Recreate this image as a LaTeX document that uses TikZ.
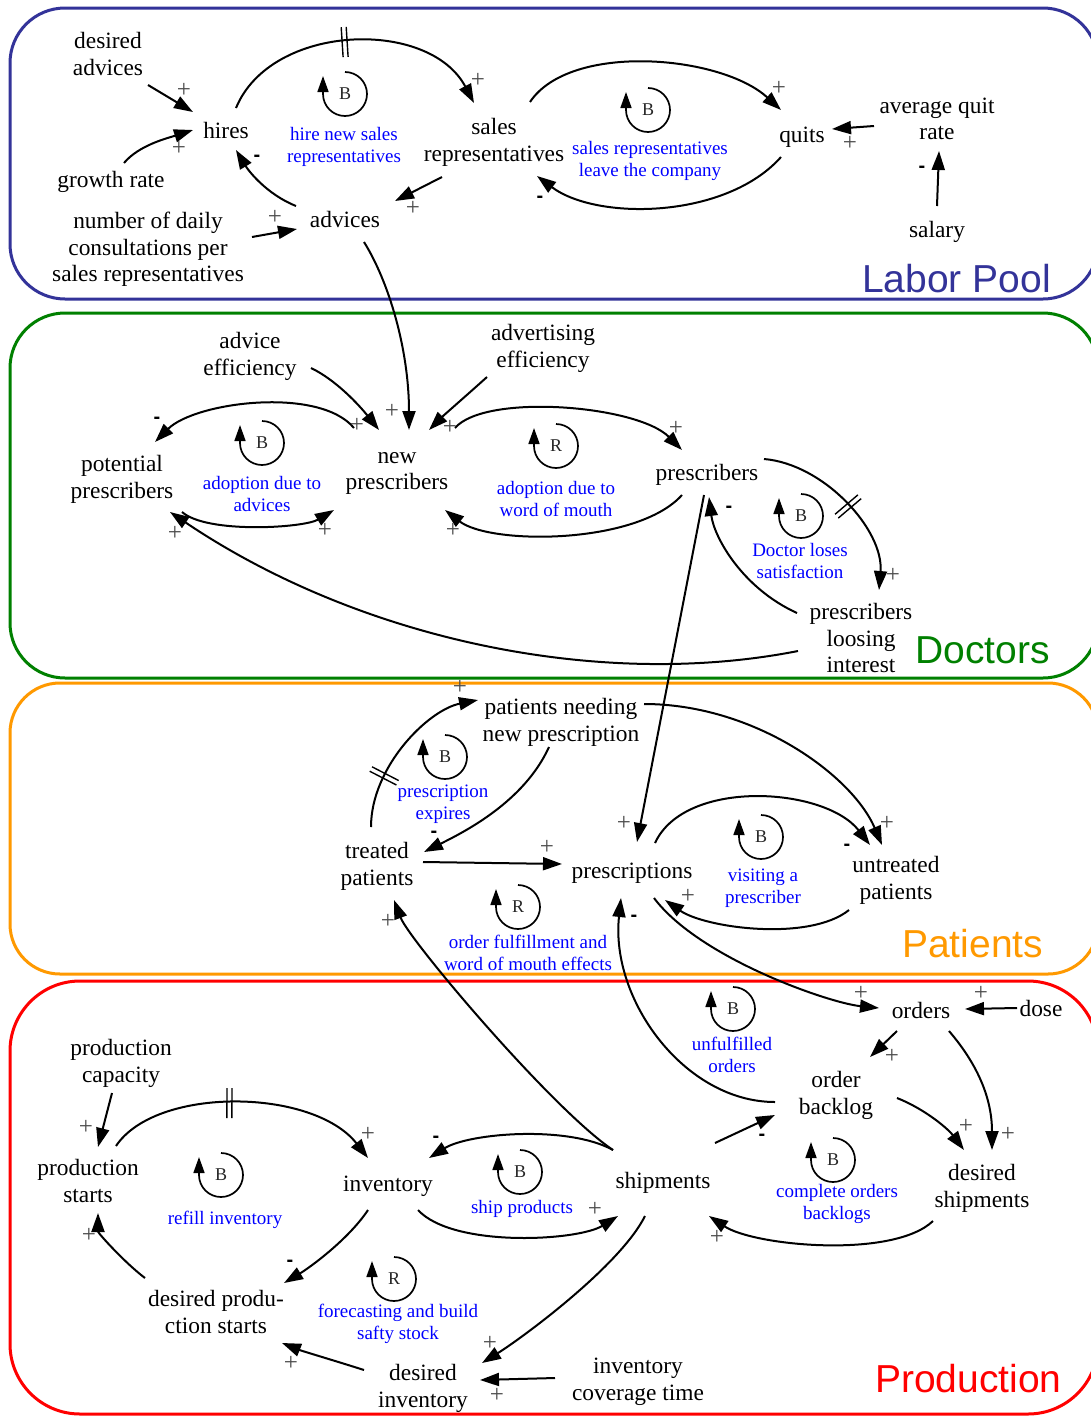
\documentclass[tikz,border=0pt]{standalone}
\usepackage{fontspec}
\setmainfont{Liberation Serif}
\newfontfamily\sansfam{Liberation Sans}
\usetikzlibrary{arrows.meta,calc,decorations.markings}

\definecolor{poolblue}{HTML}{333399}
\definecolor{docgreen}{HTML}{008000}
\definecolor{patorange}{HTML}{FF9900}
\definecolor{prodred}{HTML}{FF0000}

\tikzset{
  var/.style={font=\fontsize{23.4}{26.5}\selectfont, align=center, inner sep=0pt, text depth=0pt},
  looptext/.style={font=\fontsize{19}{22}\selectfont, text=blue, align=center, inner sep=0pt, text depth=0pt},
  loopletter/.style={font=\fontsize{18}{18}\selectfont, inner sep=0pt, text=black!85},
  loopline/.style={line width=1.7pt, -{Triangle[length=16pt,width=11pt]}},
  plus/.style={font=\fontsize{25}{25}\selectfont, inner sep=0pt, text=black!70},
  minus/.style={font=\sansfam\bfseries\fontsize{20}{20}\selectfont, inner sep=0pt},
  arr/.style={line width=2pt, -{Triangle[length=19pt,width=13pt]}},
  panel/.style={line width=3pt},
  ptitle/.style={font=\sansfam\fontsize{39}{39}\selectfont, anchor=base west, inner sep=0pt},
  delaybar/.style={postaction={decorate, decoration={markings,
      mark=at position #1 with {\draw[-, line width=1.4pt] (-2.5,-15) -- (-2.5,15) (2.5,-15) -- (2.5,15);}}}}
}

% feedback loop symbol: letter inside a clockwise circular arrow
\newcommand\fbloop[4]{%
  \node[loopletter] (#1) at (#2,#3) {#4};
  \draw[loopline] ($(#1)+(0,-22)$) arc[start angle=-90, end angle=180, radius=22] -- ++(0,-18);
}

\begin{document}
\begin{tikzpicture}[x=1pt, y=-1pt]
\useasboundingbox (0,0) rectangle (1091,1416);
\fill[white] (0,0) rectangle (1091,1416);
\clip (0,0) rectangle (1091,1416);

% ---------- sector frames ----------
\draw[panel, poolblue, rounded corners=55pt] (10,8) rectangle (1098,299);
\draw[panel, docgreen, rounded corners=55pt] (10,313) rectangle (1098,678);
\draw[panel, patorange, rounded corners=50pt] (10,683) rectangle (1098,974);
\draw[panel, prodred, rounded corners=70pt] (10,981) rectangle (1098,1414);

\node[ptitle, text=poolblue] (tpool) at (862,292) {Labor Pool};
\node[ptitle, text=docgreen] (tdoc) at (915,663) {Doctors};
\node[ptitle, text=patorange] (tpat) at (902,957) {Patients};
\node[ptitle, text=prodred] (tprod) at (875,1392) {Production};

% ---------- variables ----------
% labor pool
\node[var] (desadv) at (108,54) {desired\\advices};
\node[var] (hires) at (226,130) {hires};
\node[var] (growth) at (111,179) {growth rate};
\node[var] (ndaily) at (148,247) {number of daily\\consultations per\\sales representatives};
\node[var] (advices) at (345,219) {advices};
\node[var] (salesrep) at (494,140) {sales\\representatives};
\node[var] (quits) at (802,135) {quits};
\node[var] (aqr) at (937,119) {average quit\\rate};
\node[var] (salary) at (937,229) {salary};
% doctors
\node[var] (adveff) at (250,354) {advice\\efficiency};
\node[var] (adteff) at (543,346) {advertising\\efficiency};
\node[var] (potpres) at (122,477) {potential\\prescribers};
\node[var] (newpres) at (397,471) {new\\prescribers};
\node[var] (pres) at (707,472) {prescribers};
\node[var] (presli) at (861,638) {prescribers\\loosing\\interest};
% patients
\node[var] (pnp) at (561,720) {patients needing\\new prescription};
\node[var] (treated) at (377,864) {treated\\patients};
\node[var] (prescr) at (632,871) {prescriptions};
\node[var] (untreated) at (896,878) {untreated\\patients};
% production
\node[var] (pcap) at (121,1061) {production\\capacity};
\node[var] (pstarts) at (88,1181) {production\\starts};
\node[var] (inv) at (388,1184) {inventory};
\node[var] (dps) at (216,1312) {desired produ-\\ction starts};
\node[var] (dinv) at (423,1386) {desired\\inventory};
\node[var] (ict) at (638,1379) {inventory\\coverage time};
\node[var] (ship) at (663,1180) {shipments};
\node[var] (orders) at (921,1010) {orders};
\node[var] (dose) at (1041,1008) {dose};
\node[var] (obl) at (836,1093) {order\\backlog};
\node[var] (dship) at (982,1186) {desired\\shipments};

% ---------- loops ----------
\fbloop{lpA}{345}{94}{B}
\node[looptext] (lpAt) at (344,145) {hire new sales\\representatives};
\fbloop{lpB}{648}{110}{B}
\node[looptext] (lpBt) at (650,159) {sales representatives\\leave the company};
\fbloop{lpC}{262}{443}{B}
\node[looptext] (lpCt) at (262,494) {adoption due to\\advices};
\fbloop{lpD}{556}{446}{R}
\node[looptext] (lpDt) at (556,499) {adoption due to\\word of mouth};
\fbloop{lpE}{801}{516}{B}
\node[looptext] (lpEt) at (800,561) {Doctor loses\\satisfaction};
\fbloop{lpF}{445}{757}{B}
\node[looptext] (lpFt) at (443,802) {prescription\\expires};
\fbloop{lpG}{518}{907}{R}
\node[looptext] (lpGt) at (528,953) {order fulfillment and\\word of mouth effects};
\fbloop{lpH}{761}{837}{B}
\node[looptext] (lpHt) at (763,886) {visiting a\\prescriber};
\fbloop{lpI}{221}{1175}{B}
\node[looptext] (lpIt) at (225,1218) {refill inventory};
\fbloop{lpJ}{520}{1172}{B}
\node[looptext] (lpJt) at (522,1207) {ship products};
\fbloop{lpK}{394}{1279}{R}
\node[looptext] (lpKt) at (398,1322) {forecasting and build\\safty stock};
\fbloop{lpL}{733}{1009}{B}
\node[looptext] (lpLt) at (732,1055) {unfulfilled\\orders};
\fbloop{lpM}{833}{1160}{B}
\node[looptext] (lpMt) at (837,1202) {complete orders\\backlogs};

% ---------- links: labor pool ----------
\draw[arr] ($(desadv)+(40,31)$) -- ($(hires)+(-33,-18)$);
\draw[arr] ($(growth)+(13,-16)$) .. controls +(15,-18) and +(-25,8) .. ($(hires)+(-33,0)$);
\draw[arr, delaybar=0.47] ($(hires)+(10,-22)$) .. controls +(35,-85) and +(-45,-85) .. ($(salesrep)+(-20,-37)$);
\draw[arr] ($(salesrep)+(-52,37)$) -- ($(advices)+(50,-18)$);
\draw[arr] ($(advices)+(-49,-13)$) .. controls +(-30,-12) and +(12,20) .. ($(hires)+(10,20)$);
\draw[arr] ($(ndaily)+(104,-10)$) -- ($(advices)+(-48,10)$);
\draw[arr] ($(salesrep)+(36,-38)$) .. controls +(40,-60) and +(-60,-55) .. ($(quits)+(-21,-25)$);
\draw[arr] ($(quits)+(-21,22)$) .. controls +(-55,62) and +(60,45) .. ($(salesrep)+(43,36)$);
\draw[arr] ($(aqr)+(-63,7)$) -- ($(quits)+(30,-6)$);
\draw[arr] ($(salary)+(0,-23)$) -- ($(aqr)+(2,32)$);
\draw[arr] ($(advices)+(19,23)$) .. controls +(25,40) and +(0,-80) .. ($(newpres)+(12,-41)$);

% ---------- links: doctors ----------
\draw[arr] ($(adveff)+(61,14)$) .. controls +(25,12) and +(-20,-25) .. ($(newpres)+(-18,-41)$);
\draw[arr] ($(adteff)+(-56,31)$) .. controls +(-20,18) and +(15,-15) .. ($(newpres)+(32,-41)$);
\draw[arr] ($(newpres)+(-43,-43)$) .. controls +(-35,-42) and +(40,-40) .. ($(potpres)+(33,-35)$);
\draw[arr] ($(potpres)+(60,35)$) .. controls +(25,22) and +(-30,18) .. ($(newpres)+(-63,39)$);
\draw[arr] ($(newpres)+(58,-43)$) .. controls +(30,-35) and +(-45,-45) .. ($(pres)+(-25,-22)$);
\draw[arr] ($(pres)+(-25,23)$) .. controls +(-45,50) and +(45,35) .. ($(newpres)+(48,39)$);
\draw[arr, delaybar=0.52] ($(pres)+(57,-13)$) .. controls +(60,5) and +(5,-60) .. ($(presli)+(18,-48)$);
\draw[arr] ($(presli)+(-64,-25)$) .. controls +(-55,-25) and +(5,40) .. ($(pres)+(2,25)$);
\draw[arr] ($(pres)+(-3,23)$) -- ($(prescr)+(5,-29)$);
\draw[arr] ($(presli)+(-63,13)$) .. controls +(-198,39) and +(190,128) .. ($(potpres)+(48,35)$);

% ---------- links: patients ----------
\draw[arr, delaybar=0.3] ($(treated)+(-6,-37)$) .. controls +(0,-60) and +(-50,10) .. ($(pnp)+(-83,-20)$);
\draw[arr] ($(pnp)+(-12,27)$) .. controls +(-25,55) and +(40,-20) .. ($(treated)+(47,-12)$);
\draw[arr] ($(treated)+(46,-2)$) -- ($(prescr)+(-70,-7)$);
\draw[arr] ($(pnp)+(83,-16)$) .. controls +(110,0) and +(-30,-70) .. ($(untreated)+(-14,-33)$);
\draw[arr] ($(prescr)+(23,-28)$) .. controls +(30,-65) and +(-45,-58) .. ($(untreated)+(-26,-33)$);
\draw[arr] ($(untreated)+(-47,32)$) .. controls +(-40,32) and +(40,28) .. ($(prescr)+(33,29)$);
\draw[arr] ($(prescr)+(22,27)$) .. controls +(45,60) and +(-50,-5) .. ($(orders)+(-42,-2)$);
\draw[arr] ($(obl)+(-61,9)$) .. controls +(-90,0) and +(-11,102) .. ($(prescr)+(-11,27)$);
\draw[arr] ($(ship)+(-50,-30)$) .. controls +(-60,-40) and +(15,40) .. ($(treated)+(17,36)$);

% ---------- links: production ----------
\draw[arr] ($(pcap)+(-9,32)$) -- ($(pstarts)+(10,-34)$);
\draw[arr, delaybar=0.45] ($(pstarts)+(28,-35)$) .. controls +(40,-60) and +(-55,-70) .. ($(inv)+(-20,-26)$);
\draw[arr] ($(inv)+(-20,26)$) .. controls +(-20,30) and +(25,-15) .. ($(dps)+(68,-29)$);
\draw[arr] ($(dps)+(-71,-34)$) .. controls +(-20,-15) and +(0,20) .. ($(pstarts)+(10,32)$);
\draw[arr] ($(dinv)+(-59,-16)$) .. controls +(-25,-8) and +(20,8) .. ($(dps)+(66,31)$);
\draw[arr] ($(ship)+(-50,-30)$) .. controls +(-45,-25) and +(40,-25) .. ($(inv)+(41,-26)$);
\draw[arr] ($(inv)+(30,26)$) .. controls +(35,38) and +(-40,25) .. ($(ship)+(-45,36)$);
\draw[arr] ($(ship)+(-18,36)$) .. controls +(-25,50) and +(40,-25) .. ($(dinv)+(59,-23)$);
\draw[arr] ($(ict)+(-83,-1)$) -- ($(dinv)+(57,-6)$);
\draw[arr] ($(ship)+(52,-37)$) -- ($(obl)+(-61,22)$);
\draw[arr] ($(dship)+(-49,35)$) .. controls +(-40,38) and +(45,30) .. ($(ship)+(46,36)$);
\draw[arr] ($(orders)+(-24,21)$) -- ($(obl)+(34,-36)$);
\draw[arr] ($(obl)+(61,5)$) .. controls +(30,12) and +(-15,-20) .. ($(dship)+(-18,-36)$);
\draw[arr] ($(orders)+(28,21)$) .. controls +(30,35) and +(0,-50) .. ($(dship)+(10,-36)$);
\draw[arr] ($(dose)+(-24,0)$) -- ($(orders)+(44,-1)$);

% ---------- link polarities ----------
\node[plus] (s01) at (184,90) {+};
\node[plus] (s02) at (179,148) {+};
\node[plus] (s03) at (478,80) {+};
\node[plus] (s04) at (413,208) {+};
\node[minus] (s05) at (257,158) {-};
\node[plus] (s06) at (275,217) {+};
\node[plus] (s07) at (779,88) {+};
\node[minus] (s08) at (540,199) {-};
\node[plus] (s09) at (850,143) {+};
\node[minus] (s10) at (922,169) {-};

\node[plus] (s11) at (392,411) {+};
\node[plus] (s12) at (357,425) {+};
\node[plus] (s13) at (450,427) {+};
\node[minus] (s14) at (157,420) {-};
\node[plus] (s15) at (175,533) {+};
\node[plus] (s16) at (325,530) {+};
\node[plus] (s17) at (676,428) {+};
\node[plus] (s18) at (453,530) {+};
\node[minus] (s19) at (729,509) {-};
\node[plus] (s20) at (893,575) {+};
\node[plus] (s21) at (624,823) {+};

\node[plus] (s22) at (460,687) {+};
\node[minus] (s23) at (434,834) {-};
\node[plus] (s24) at (547,847) {+};
\node[plus] (s25) at (887,823) {+};
\node[minus] (s26) at (847,847) {-};
\node[plus] (s27) at (688,896) {+};
\node[plus] (s28) at (861,993) {+};
\node[minus] (s29) at (634,918) {-};
\node[plus] (s30) at (388,921) {+};

\node[plus] (s31) at (86,1127) {+};
\node[plus] (s32) at (368,1134) {+};
\node[minus] (s33) at (290,1263) {-};
\node[plus] (s34) at (89,1235) {+};
\node[plus] (s35) at (291,1363) {+};
\node[minus] (s36) at (436,1139) {-};
\node[plus] (s37) at (595,1209) {+};
\node[plus] (s38) at (490,1343) {+};
\node[plus] (s39) at (497,1395) {+};
\node[minus] (s40) at (762,1137) {-};
\node[plus] (s41) at (717,1237) {+};
\node[plus] (s42) at (892,1056) {+};
\node[plus] (s43) at (966,1126) {+};
\node[plus] (s44) at (1008,1134) {+};
\node[plus] (s45) at (981,993) {+};
\end{tikzpicture}
\end{document}
